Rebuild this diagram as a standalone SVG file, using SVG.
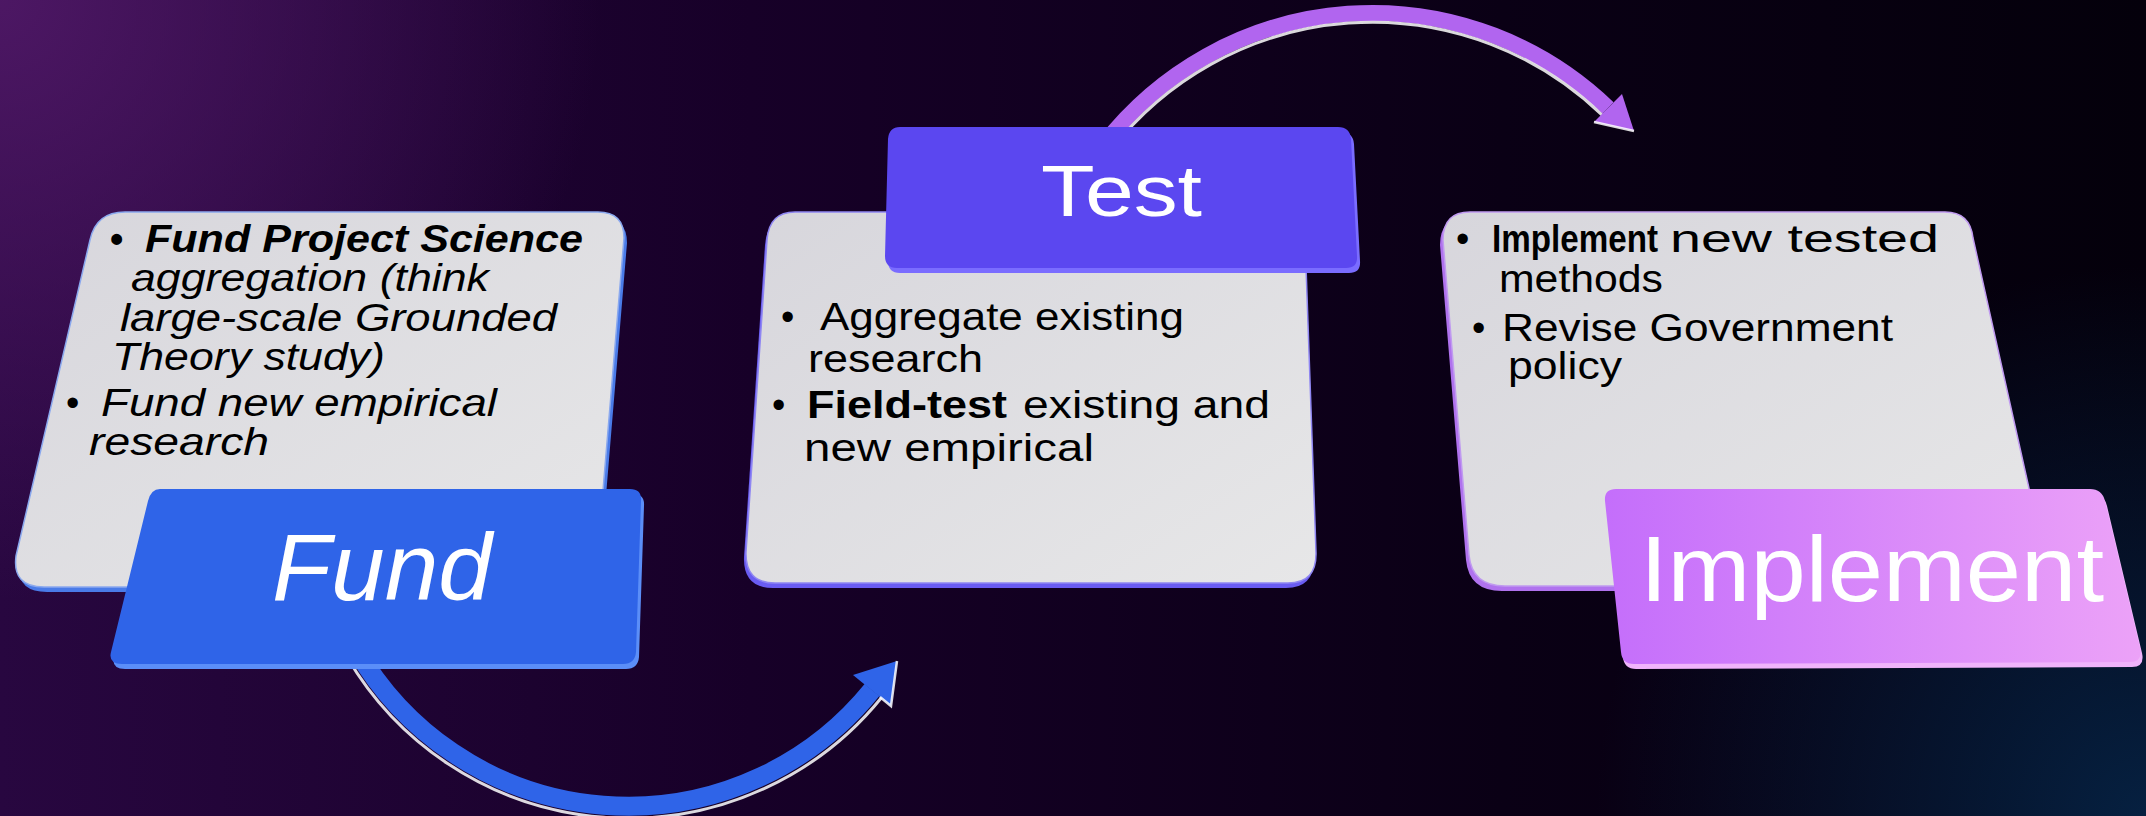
<svg xmlns="http://www.w3.org/2000/svg" width="2146" height="816" viewBox="0 0 2146 816">
<defs>
<linearGradient id="bg" x1="0" y1="0" x2="1" y2="0">
<stop offset="0" stop-color="#280740"/>
<stop offset="0.35" stop-color="#170028"/>
<stop offset="0.7" stop-color="#0a0015"/>
<stop offset="1" stop-color="#04000b"/>
</linearGradient>
<radialGradient id="glowTL" gradientUnits="userSpaceOnUse" cx="0" cy="0" r="600">
<stop offset="0" stop-color="#531a6a" stop-opacity="0.85"/>
<stop offset="1" stop-color="#531a6a" stop-opacity="0"/>
</radialGradient>
<radialGradient id="glowBR" gradientUnits="userSpaceOnUse" cx="2146" cy="816" r="550">
<stop offset="0" stop-color="#06264a" stop-opacity="0.85"/>
<stop offset="1" stop-color="#06264a" stop-opacity="0"/>
</radialGradient>
<linearGradient id="card" x1="0" y1="0" x2="1" y2="1">
<stop offset="0" stop-color="#d7d6dc"/>
<stop offset="1" stop-color="#e7e7e8"/>
</linearGradient>
<linearGradient id="impl" x1="0" y1="0" x2="1" y2="0">
<stop offset="0" stop-color="#c46efb"/>
<stop offset="1" stop-color="#eca2f8"/>
</linearGradient>
<path id="c1" d="M125,212 L598,212 Q624,212 624,238 L596,575 Q596,587 584,587 L44,587 Q12,587 16,556 L90,240 Q96,212 125,212 Z"/>
<path id="b1" d="M160,489 L630,489 Q642,489 641,501 L636,652 Q635,664 623,664 L122,664 Q108,664 111,652 L148,501 Q151,489 160,489 Z"/>
<path id="c2" d="M795,212 L1278,212 Q1304,212 1305,238 L1316,552 Q1317,583 1288,583 L775,583 Q745,583 746,552 L767,240 Q769,212 795,212 Z"/>
<path id="b2" d="M900,127 L1338,127 Q1350,127 1351,139 L1357,256 Q1358,268 1346,268 L897,268 Q885,268 885,256 L888,139 Q889,127 900,127 Z"/>
<path id="c3" d="M1470,212 L1945,212 Q1970,212 1973,238 L2045,560 Q2050,586 2020,586 L1505,586 Q1472,586 1469,555 L1443,240 Q1443,212 1470,212 Z"/>
<path id="b3" d="M1616,489 L2090,489 Q2102,489 2105,501 L2140,648 Q2143,662 2130,662 L1634,664 Q1622,664 1621,652 L1605,501 Q1604,489 1616,489 Z"/>
</defs>
<style>
.t{font-family:"Liberation Sans",Arial,Helvetica,sans-serif;font-size:38px;fill:#000}
.i{font-style:italic}
.b{font-weight:bold}
.lbl{font-family:"Liberation Sans",Arial,Helvetica,sans-serif;fill:#fff}
.shaft{fill:none}
.hl{fill:none;stroke:#ffffff;stroke-opacity:0.85}
</style>
<rect width="2146" height="816" fill="url(#bg)"/>
<rect width="2146" height="816" fill="url(#glowTL)"/>
<rect width="2146" height="816" fill="url(#glowBR)"/>

<g id="connectors">
<g id="arrow-fund-test">
<path class="shaft" d="M356,649 A314,314 0 0 0 872,690" stroke="#2f64e8" stroke-width="19"/>
<path class="hl" d="M347,657 A326,326 0 0 0 882,697" stroke-width="3"/>
<polygon points="897,661 891,706 853,675" fill="#2f64e8"/>
<polyline class="hl" points="897,661 891,706 880,697" stroke-width="2.5"/>
</g>
<g id="arrow-test-implement">
<path class="shaft" d="M1104,144 A340,340 0 0 1 1608,108" stroke="#b165ef" stroke-width="16"/>
<path class="hl" d="M1111,150 A331,331 0 0 1 1602,115" stroke-width="3"/>
<polygon points="1634,131 1622,94 1594,122" fill="#b165ef"/>
<polyline class="hl" points="1594,122 1634,131" stroke-width="2.5"/>
</g>
</g>

<g id="node-fund">
<use href="#c1" transform="translate(3,5)" fill="#4a7be8"/>
<use href="#c1" fill="url(#card)" stroke="#8aa8ee" stroke-width="1.5"/>
<text class="t" x="110" y="252" font-weight="bold">•</text>
<text class="t i b" x="145" y="252" textLength="438" lengthAdjust="spacingAndGlyphs">Fund Project Science</text>
<text class="t i" x="131" y="291" textLength="358" lengthAdjust="spacingAndGlyphs">aggregation (think</text>
<text class="t i" x="120" y="331" textLength="437" lengthAdjust="spacingAndGlyphs">large-scale Grounded</text>
<text class="t i" x="112" y="370" textLength="273" lengthAdjust="spacingAndGlyphs">Theory study)</text>
<text class="t" x="66" y="416">•</text>
<text class="t i" x="101" y="416" textLength="396" lengthAdjust="spacingAndGlyphs">Fund new empirical</text>
<text class="t i" x="89" y="455" textLength="180" lengthAdjust="spacingAndGlyphs">research</text>
<use href="#b1" transform="translate(3,5)" fill="#5b8ef8"/>
<use href="#b1" fill="#2f64e8"/>
<text class="lbl i" x="272" y="600" font-size="94" textLength="220" lengthAdjust="spacingAndGlyphs">Fund</text>
</g>

<g id="node-test">
<use href="#c2" transform="translate(-2,5)" fill="#6a5cf2"/>
<use href="#c2" fill="url(#card)" stroke="#8f86f2" stroke-width="1.5"/>
<text class="t" x="781" y="330">•</text>
<text class="t" x="820" y="330" textLength="364" lengthAdjust="spacingAndGlyphs">Aggregate existing</text>
<text class="t" x="808" y="372" textLength="175" lengthAdjust="spacingAndGlyphs">research</text>
<text class="t" x="772" y="418">•</text>
<text class="t b" x="807" y="418" textLength="200" lengthAdjust="spacingAndGlyphs">Field-test</text>
<text class="t" x="1023" y="418" textLength="247" lengthAdjust="spacingAndGlyphs">existing and</text>
<text class="t" x="804" y="461" textLength="290" lengthAdjust="spacingAndGlyphs">new empirical</text>
<use href="#b2" transform="translate(3,5)" fill="#7a6cff"/>
<use href="#b2" fill="#5b47f0"/>
<text class="lbl" x="1041" y="216" font-size="72" textLength="161" lengthAdjust="spacingAndGlyphs">Test</text>
</g>

<g id="node-implement">
<use href="#c3" transform="translate(-3,5)" fill="#b072ee"/>
<use href="#c3" fill="url(#card)" stroke="#c09af0" stroke-width="1.5"/>
<text class="t" x="1456" y="252">•</text>
<text class="t b" x="1492" y="252" textLength="166" lengthAdjust="spacingAndGlyphs">Implement</text>
<text class="t" x="1670" y="252" textLength="269" lengthAdjust="spacingAndGlyphs">new tested</text>
<text class="t" x="1499" y="292" textLength="164" lengthAdjust="spacingAndGlyphs">methods</text>
<text class="t" x="1472" y="341">•</text>
<text class="t" x="1502" y="341" textLength="391" lengthAdjust="spacingAndGlyphs">Revise Government</text>
<text class="t" x="1508" y="379" textLength="114" lengthAdjust="spacingAndGlyphs">policy</text>
<use href="#b3" transform="translate(2,5)" fill="#f0b4fb"/>
<use href="#b3" fill="url(#impl)"/>
<text class="lbl" x="1640" y="601" font-size="92" textLength="464" lengthAdjust="spacingAndGlyphs">Implement</text>
</g>
</svg>
